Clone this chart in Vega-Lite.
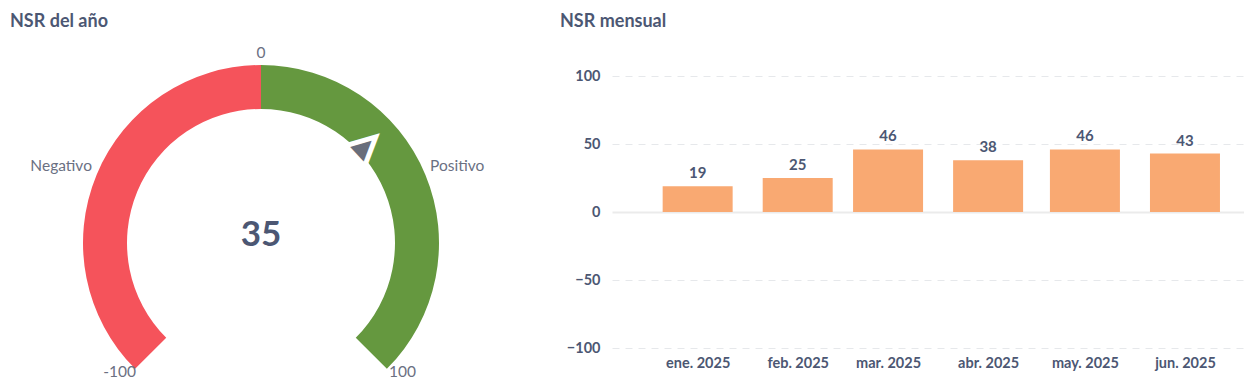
{
  "$schema": "https://vega.github.io/schema/vega-lite/v6.json",
  "background": "white",
  "padding": {"left": 10, "top": 13, "right": 0, "bottom": 0},
  "config": {
    "font": "Lato",
    "view": {"stroke": null},
    "title": {"font": "Lato", "fontSize": 18, "fontWeight": "bold", "color": "#4c5773", "anchor": "start", "frame": "group"}
  },
  "datasets": {
    "vacio": [],
    "segmentos": [
      {"segmento": "Negativo", "desde": -100, "hasta": 0},
      {"segmento": "Positivo", "desde": 0, "hasta": 100}
    ],
    "etiquetas": [
      {"etiqueta": "-100", "valor": -100},
      {"etiqueta": "Negativo", "valor": -50},
      {"etiqueta": "0", "valor": 0},
      {"etiqueta": "Positivo", "valor": 50},
      {"etiqueta": "100", "valor": 100}
    ],
    "nsr": [{"valor": 35}],
    "mensual": [
      {"mes": "2025-01-01", "nsr": 19},
      {"mes": "2025-02-01", "nsr": 25},
      {"mes": "2025-03-01", "nsr": 46},
      {"mes": "2025-04-01", "nsr": 38},
      {"mes": "2025-05-01", "nsr": 46},
      {"mes": "2025-06-01", "nsr": 43}
    ]
  },
  "spacing": 48,
  "hconcat": [
    {
      "spacing": 0,
      "vconcat": [
        {
          "width": 502,
          "height": 10,
          "title": {"text": "NSR del año", "offset": 5},
          "data": {"name": "vacio"},
          "mark": "point"
        },
        {
          "width": 502,
          "height": 250,
          "layer": [
            {
              "data": {"name": "segmentos"},
              "mark": {"type": "arc", "radius": 178, "radius2": 134},
              "encoding": {
                "theta": {"field": "desde", "type": "quantitative", "stack": null, "scale": {"domain": [-100, 100], "range": [-2.35619, 2.35619]}},
                "theta2": {"field": "hasta"},
                "color": {"field": "segmento", "type": "nominal", "scale": {"domain": ["Negativo", "Positivo"], "range": ["#f5535b", "#65983f"]}, "legend": null}
              }
            },
            {
              "data": {"name": "nsr"},
              "mark": {"type": "text", "text": "▲", "font": "DejaVu Sans", "fontSize": 26, "radius": 142, "align": "center", "baseline": "middle", "fill": "white", "stroke": "white", "strokeWidth": 10, "strokeJoin": "miter"},
              "encoding": {
                "theta": {"field": "valor", "type": "quantitative", "stack": null, "scale": {"domain": [-100, 100], "range": [-2.35619, 2.35619]}},
                "angle": {"field": "valor", "type": "quantitative", "scale": {"domain": [-100, 100], "range": [-135, 135]}, "legend": null}
              }
            },
            {
              "data": {"name": "nsr"},
              "mark": {"type": "text", "text": "▲", "font": "DejaVu Sans", "fontSize": 26, "radius": 142, "align": "center", "baseline": "middle", "fill": "#696e7b"},
              "encoding": {
                "theta": {"field": "valor", "type": "quantitative", "stack": null, "scale": {"domain": [-100, 100], "range": [-2.35619, 2.35619]}},
                "angle": {"field": "valor", "type": "quantitative", "scale": {"domain": [-100, 100], "range": [-135, 135]}, "legend": null}
              }
            },
            {
              "data": {"name": "etiquetas"},
              "transform": [{"filter": "datum.valor === 0"}],
              "mark": {"type": "text", "radius": 190, "align": "center", "baseline": "middle", "fontSize": 15.5, "color": "#6a7082"},
              "encoding": {
                "theta": {"field": "valor", "type": "quantitative", "stack": null, "scale": {"domain": [-100, 100], "range": [-2.35619, 2.35619]}},
                "text": {"field": "etiqueta"}
              }
            },
            {
              "data": {"name": "etiquetas"},
              "transform": [{"filter": "abs(datum.valor) === 100"}],
              "mark": {"type": "text", "radius": 200, "dy": -12, "align": "center", "baseline": "middle", "fontSize": 15.5, "color": "#6a7082"},
              "encoding": {
                "theta": {"field": "valor", "type": "quantitative", "stack": null, "scale": {"domain": [-100, 100], "range": [-2.35619, 2.35619]}},
                "text": {"field": "etiqueta"}
              }
            },
            {
              "data": {"name": "etiquetas"},
              "transform": [{"filter": "datum.valor === -50"}],
              "mark": {"type": "text", "radius": 183, "dy": -6.5, "align": "right", "baseline": "middle", "fontSize": 15.5, "color": "#6a7082"},
              "encoding": {
                "theta": {"field": "valor", "type": "quantitative", "stack": null, "scale": {"domain": [-100, 100], "range": [-2.35619, 2.35619]}},
                "text": {"field": "etiqueta"}
              }
            },
            {
              "data": {"name": "etiquetas"},
              "transform": [{"filter": "datum.valor === 50"}],
              "mark": {"type": "text", "radius": 183, "dy": -6.5, "align": "left", "baseline": "middle", "fontSize": 15.5, "color": "#6a7082"},
              "encoding": {
                "theta": {"field": "valor", "type": "quantitative", "stack": null, "scale": {"domain": [-100, 100], "range": [-2.35619, 2.35619]}},
                "text": {"field": "etiqueta"}
              }
            },
            {
              "data": {"name": "nsr"},
              "mark": {"type": "text", "align": "center", "baseline": "middle", "dy": -8, "fontSize": 35, "fontWeight": "bold", "color": "#4c5773"},
              "encoding": {
                "text": {"field": "valor", "type": "quantitative"}
              }
            }
          ]
        }
      ]
    },
    {
      "spacing": 0,
      "vconcat": [
        {
          "width": 632,
          "height": 32,
          "title": {"text": "NSR mensual", "offset": 5, "dx": -52},
          "data": {"name": "vacio"},
          "mark": "point"
        },
        {
          "width": 632,
          "height": 272,
          "data": {"name": "mensual"},
          "encoding": {
            "x": {
              "field": "mes",
              "type": "temporal",
              "scale": {
                "type": "utc",
                "padding": 0,
                "domain": [
                  {"year": 2024, "month": 12, "date": 5, "hours": 11, "utc": true},
                  {"year": 2025, "month": 6, "date": 19, "hours": 7, "utc": true}
                ]
              },
              "axis": {
                "title": null,
                "values": [
                  {"year": 2025, "month": 1, "date": 1, "utc": true},
                  {"year": 2025, "month": 2, "date": 1, "utc": true},
                  {"year": 2025, "month": 3, "date": 1, "utc": true},
                  {"year": 2025, "month": 4, "date": 1, "utc": true},
                  {"year": 2025, "month": 5, "date": 1, "utc": true},
                  {"year": 2025, "month": 6, "date": 1, "utc": true}
                ],
                "labelExpr": "['ene.', 'feb.', 'mar.', 'abr.', 'may.', 'jun.', 'jul.', 'ago.', 'sept.', 'oct.', 'nov.', 'dic.'][utcmonth(datum.value)] + ' ' + utcyear(datum.value)",
                "grid": false,
                "domain": false,
                "ticks": false,
                "tickSize": 0,
                "labelPadding": 8,
                "labelFlush": false,
                "labelOverlap": false,
                "labelFont": "Lato",
                "labelFontSize": 14.5,
                "labelFontWeight": "bold",
                "labelColor": "#4c5773"
              }
            },
            "y": {
              "field": "nsr",
              "type": "quantitative",
              "scale": {"domain": [-100, 100], "nice": false},
              "axis": {
                "title": null,
                "values": [-100, -50, 0, 50, 100],
                "domain": false,
                "ticks": false,
                "tickSize": 0,
                "labelPadding": 12,
                "labelFont": "Lato",
                "labelFontSize": 14.5,
                "labelFontWeight": "bold",
                "labelColor": "#4c5773",
                "gridColor": {"condition": {"test": "datum.value === 0", "value": "#ebebeb"}, "value": "#e6e8eb"},
                "gridDash": {"condition": {"test": "datum.value === 0", "value": []}, "value": [7, 6]},
                "gridWidth": {"condition": {"test": "datum.value === 0", "value": 2}, "value": 1}
              }
            }
          },
          "layer": [
            {"mark": {"type": "bar", "width": 70, "color": "#f9a972"}},
            {
              "mark": {"type": "text", "baseline": "alphabetic", "dy": -8, "fontSize": 15, "fontWeight": "bold", "color": "#4c5773"},
              "encoding": {"text": {"field": "nsr", "type": "quantitative"}}
            }
          ]
        }
      ]
    }
  ]
}
